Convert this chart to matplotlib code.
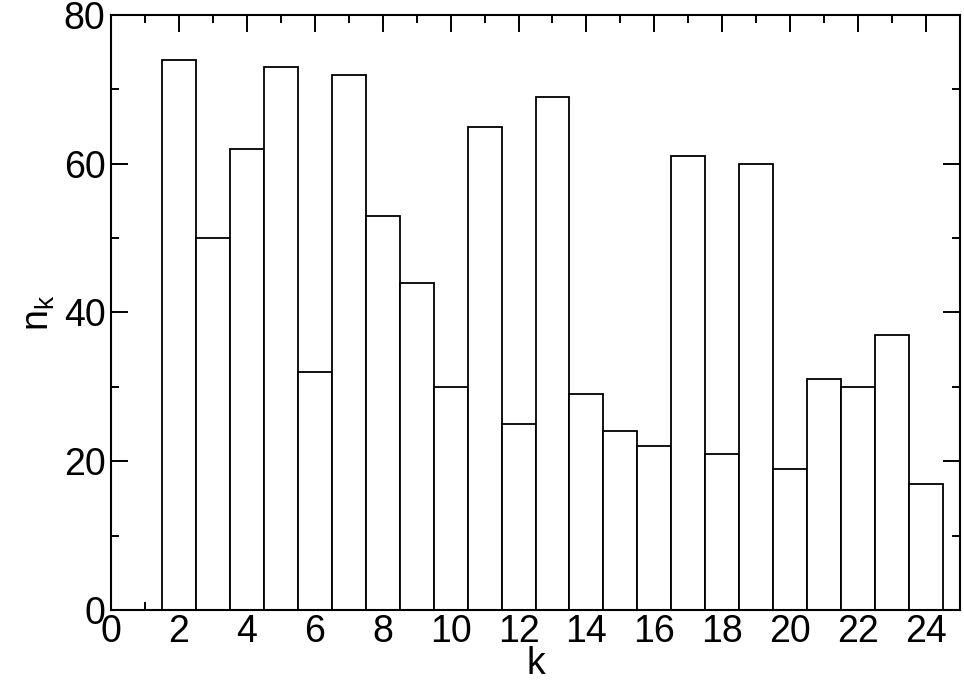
import matplotlib
matplotlib.use("Agg")
import matplotlib.pyplot as plt
from matplotlib.ticker import MultipleLocator

# ── Datos ──────────────────────────────────────────────────────────────────
k_vals = list(range(2, 25))
n_k = [74, 50, 62, 73, 32, 72, 53, 44, 30, 65, 25, 69,
       29, 24, 22, 61, 21, 60, 19, 31, 30, 37, 17]

plt.rcParams["font.family"] = ["Liberation Sans", "DejaVu Sans"]
plt.rcParams["mathtext.fontset"] = "custom"
plt.rcParams["mathtext.rm"] = "Liberation Sans"

fig = plt.figure(figsize=(9.64, 6.82), dpi=100)
ax = fig.add_axes([0.1151, 0.1056, 0.8808, 0.8724])

ax.bar(k_vals, n_k, width=1.0, color="white", edgecolor="black",
       linewidth=1.3, align="center", zorder=2)

ax.set_xlim(0, 25)
ax.set_ylim(0, 80)
ax.xaxis.set_major_locator(MultipleLocator(2))
ax.xaxis.set_minor_locator(MultipleLocator(1))
ax.yaxis.set_major_locator(MultipleLocator(20))
ax.yaxis.set_minor_locator(MultipleLocator(10))

ax.tick_params(which="both", direction="in", top=True, right=True,
               width=1.4, labelsize=27)
ax.tick_params(axis="x", pad=3)
ax.tick_params(axis="y", pad=4)
ax.tick_params(which="major", length=12)
ax.tick_params(which="minor", length=6)
for s in ax.spines.values():
    s.set_linewidth(1.5)

ax.set_xlabel("k", fontsize=27, labelpad=-3)
ax.set_ylabel(r"n$_\mathregular{k}$", fontsize=27, labelpad=5)

fig.savefig("out.png", dpi=100)
